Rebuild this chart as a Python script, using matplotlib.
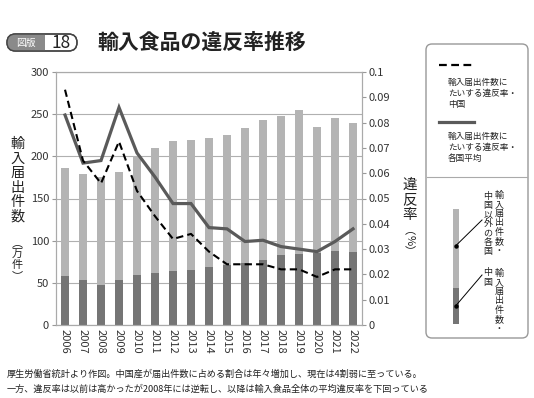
import matplotlib
matplotlib.use("Agg")
import matplotlib.pyplot as plt
from matplotlib.patches import FancyBboxPatch, Rectangle
from matplotlib.lines import Line2D
import numpy as np

plt.rcParams['font.family'] = ['Noto Sans CJK JP', 'DejaVu Sans']

# データ
years = ['2006', '2007', '2008', '2009', '2010', '2011', '2012', '2013', '2014',
         '2015', '2016', '2017', '2018', '2019', '2020', '2021', '2022']
china_count = [58, 53, 47, 53, 59, 62, 64, 65, 69, 71, 73, 77, 83, 84, 85, 88, 87]
other_count = [128, 126, 128, 129, 141, 148, 154, 154, 153, 154, 161, 166, 165, 171, 150, 158, 153]
rate_china = [0.093, 0.065, 0.056, 0.0725, 0.053, 0.043, 0.034, 0.036, 0.029,
              0.024, 0.024, 0.024, 0.022, 0.022, 0.019, 0.022, 0.022]
rate_avg = [0.083, 0.064, 0.065, 0.086, 0.068, 0.0585, 0.048, 0.048, 0.0385,
            0.038, 0.033, 0.0335, 0.031, 0.030, 0.029, 0.033, 0.038]
left_ticks = [0, 50, 100, 150, 200, 250, 300]
right_ticks = [0, 0.01, 0.02, 0.03, 0.04, 0.05, 0.06, 0.07, 0.08, 0.09, 0.1]
right_labels = ['0', '0.01', '0.02', '0.03', '0.04', '0.05', '0.06', '0.07', '0.08', '0.09', '0.1']

LIGHT = '#b4b4b4'
DARK = '#757575'
LINE = '#5a5a5a'
TXT = '#222222'
W, H = 534, 398

fig = plt.figure(figsize=(W / 100, H / 100), dpi=100)
ax = fig.add_axes([56 / W, 1 - 325 / H, (362 - 56) / W, (325 - 72) / H])

x = np.arange(len(years))
ax.bar(x, china_count, width=0.42, color=DARK, zorder=2)
ax.bar(x, other_count, width=0.42, bottom=china_count, color=LIGHT, zorder=2)
ax.set_xlim(-0.5, len(years) - 0.5)
ax.set_ylim(0, 300)
ax.set_yticks(left_ticks)
ax.set_xticks(x)
ax.set_xticklabels(years, rotation=-90, fontsize=8, color='#333333')
ax.tick_params(axis='x', length=0, pad=3)
ax.tick_params(axis='y', length=3, color='#999999', labelsize=8, labelcolor='#333333', pad=2)
ax.grid(axis='y', color='#b0b0b0', lw=0.8)
ax.set_axisbelow(True)
for s in ax.spines.values():
    s.set_color('#aaaaaa')
    s.set_linewidth(0.8)

ax2 = ax.twinx()
ax2.plot(x, rate_avg, color=LINE, lw=2.3, solid_joinstyle='miter')
ax2.plot(x, rate_china, color='black', lw=1.5, dashes=(3.5, 2))
ax2.set_ylim(0, 0.1)
ax2.set_yticks(right_ticks)
ax2.set_yticklabels(right_labels)
ax2.tick_params(axis='y', length=3, color='#999999', labelsize=8, labelcolor='#333333', pad=2)
for s in ax2.spines.values():
    s.set_color('#aaaaaa')
    s.set_linewidth(0.8)

# ピクセル座標の重ね描き用
ov = fig.add_axes([0, 0, 1, 1], zorder=10)
ov.set_xlim(0, W)
ov.set_ylim(H, 0)
ov.axis('off')
ov.patch.set_alpha(0)


def vtext(xc, y0, s, size, step, **kw):
    for i, ch in enumerate(s):
        ov.text(xc, y0 + i * step, ch, fontsize=size, ha='center', va='center',
                color=TXT, **kw)


# タイトル
pill = FancyBboxPatch((7, 34), 70, 17, boxstyle="round,pad=0,rounding_size=8.5",
                      fc='white', ec='#444444', lw=1)
ov.add_patch(pill)
gray = Rectangle((7, 34), 38, 17, fc='#8a8a8a', ec='none')
ov.add_patch(gray)
gray.set_clip_path(pill)
ov.add_patch(FancyBboxPatch((7, 34), 70, 17, boxstyle="round,pad=0,rounding_size=8.5",
                            fc='none', ec='#444444', lw=1))
ov.text(26, 42.5, '図版', fontsize=7, color='white', ha='center', va='center')
ov.text(61, 42.5, '18', fontsize=12.5, color=TXT, ha='center', va='center')
ov.text(97, 42, '輸入食品の違反率推移', fontsize=15, fontweight='bold', color=TXT,
        ha='left', va='center')

# 軸ラベル
vtext(17.5, 144, '輸入届出件数', 10.2, 14.6)
vtext(17.5, 243, '︵万件︶', 8, 11)
vtext(410, 184.5, '違反率', 10.5, 15.5)
ov.text(410, 230, '︵', fontsize=8, ha='center', va='center', color=TXT)
ov.text(410, 240, '%', fontsize=8, ha='center', va='center', color=TXT, rotation=-90)
ov.text(410, 251, '︶', fontsize=8, ha='center', va='center', color=TXT)

# 凡例
ov.add_patch(FancyBboxPatch((426, 44), 102, 294, boxstyle="round,pad=0,rounding_size=6",
                            fc='none', ec='#999999', lw=1))
ov.add_line(Line2D([439, 473], [65, 65], color='black', lw=1.6, dashes=(3.5, 2)))
ov.text(448, 78, '輸入届出件数に\nたいする違反率・\n中国', fontsize=6.2, color=TXT,
        ha='left', va='top', linespacing=1.25)
ov.add_line(Line2D([439, 474], [121.5, 121.5], color=LINE, lw=2.3))
ov.text(448, 132, '輸入届出件数に\nたいする違反率・\n各国平均', fontsize=6.2, color=TXT,
        ha='left', va='top', linespacing=1.25)
ov.add_line(Line2D([427, 527], [177, 177], color='#aaaaaa', lw=0.8))
ov.add_patch(Rectangle((453, 209), 6, 79, fc=LIGHT, ec='none'))
ov.add_patch(Rectangle((453, 288), 6, 36, fc=DARK, ec='none'))
ov.add_line(Line2D([456, 482], [245.5, 220], color='black', lw=0.7))
ov.add_line(Line2D([456, 482], [305.5, 275], color='black', lw=0.7))
ov.plot([456, 456], [245.5, 305.5], 'o', color='black', ms=2.2)
vtext(499, 195, '輸入届出件数・', 6.5, 9.3)
vtext(488, 196, '中国以外の各国', 6.5, 9.3)
vtext(499, 273, '輸入届出件数・', 6.5, 9.3)
vtext(488, 273, '中国', 6.5, 9.3)

# 注記
ov.text(7, 374, '厚生労働省統計より作図。中国産が届出件数に占める割合は年々増加し、現在は4割弱に至っている。',
        fontsize=6.6, color=TXT, ha='left', va='center')
ov.text(7, 389, '一方、違反率は以前は高かったが2008年には逆転し、以降は輸入食品全体の平均違反率を下回っている',
        fontsize=6.6, color=TXT, ha='left', va='center')

fig.savefig('out.png', dpi=100)
